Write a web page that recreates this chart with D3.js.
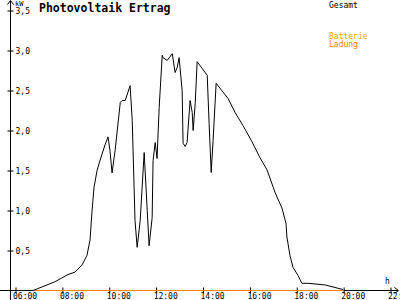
<!DOCTYPE html>
<html>
<head>
  <style>
    body { margin: 0; background: #fff; }
    svg { display: block; }
    text { font-family: "DejaVu Sans Mono", monospace; }
    .tick text { font-size: 8px; fill: #000; }
  </style>
</head>
<body>
  <svg id="chart" width="400" height="300"></svg>

  <script src="https://d3js.org/d3.v7.min.js"></script>
  <script>
    // decimal hours and kW
    const hours = [6.75, 7.69, 8.24, 8.54, 8.84, 9.05, 9.18, 9.26, 9.35, 9.48, 9.61, 9.82, 9.95, 10.03,
      10.12, 10.25, 10.47, 10.55, 10.68, 10.89, 10.98, 11.10, 11.19, 11.32, 11.49, 11.62, 11.70, 11.83,
      11.87, 11.96, 12.04, 12.13, 12.26, 12.30, 12.47, 12.69, 12.81, 12.90, 12.98, 13.11, 13.15, 13.24,
      13.32, 13.45, 13.54, 13.58, 13.67, 13.75, 14.18, 14.26, 14.35, 14.43, 14.56, 15.07, 15.37, 15.71,
      16.09, 16.43, 16.73, 17.08, 17.37, 17.54, 17.58, 17.71, 17.84, 18.05, 18.22, 18.48, 19.20, 19.97];
    const gesamt = [0, 0.11, 0.2, 0.23, 0.32, 0.44, 0.63, 0.97, 1.29, 1.5, 1.63, 1.82, 1.92, 1.75,
      1.47, 1.75, 2.35, 2.375, 2.375, 2.56, 2.125, 0.875, 0.54, 0.875, 1.725, 1.0, 0.56, 0.91,
      1.625, 1.85, 1.65, 2.29, 2.94, 2.91, 2.875, 2.96, 2.725, 2.79, 2.91, 2.5, 1.84, 1.8,
      1.85, 2.375, 2.225, 2.0, 2.35, 2.86, 2.69, 2.09, 1.475, 1.875, 2.59, 2.4, 2.225, 2.06,
      1.86, 1.66, 1.51, 1.22, 1.03, 0.84, 0.67, 0.44, 0.29, 0.19, 0.09, 0.09, 0.07, 0.0125];
    // battery charge: zero over the whole day
    const ladungHours = [6.75, 20];
    const ladung = [0, 0];

    const xTicks = [6, 8, 10, 12, 14, 16, 18, 20, 22];
    const yTicks = [0.5, 1, 1.5, 2, 2.5, 3, 3.5];

    const svg = d3.select("#chart");

    const x = d3.scaleLinear().domain([6, 22]).range([15.5, 390.5]);
    const y = d3.scaleLinear().domain([0, 3.5]).range([290.5, 10.5]);

    // x axis
    const xAxis = svg.append("g")
      .attr("transform", "translate(0,290.5)")
      .call(d3.axisBottom(x).tickValues(xTicks).tickSize(3)
        .tickFormat(d => String(d).padStart(2, "0") + ":00"));
    xAxis.select(".domain").remove();
    xAxis.selectAll(".tick line").attr("y1", -3).attr("y2", 3).attr("stroke", "#000");
    xAxis.selectAll(".tick text").attr("text-anchor", "start").attr("x", -3).attr("y", 3).attr("dy", "0.71em");

    // y axis
    const yAxis = svg.append("g")
      .attr("transform", "translate(10.5,0)")
      .call(d3.axisLeft(y).tickValues(yTicks).tickSize(3)
        .tickFormat(d => d3.format(".1f")(d).replace(".", ",")));
    yAxis.select(".domain").remove();
    yAxis.selectAll(".tick line").attr("x1", -3).attr("x2", 3).attr("stroke", "#000");
    yAxis.selectAll(".tick text").attr("text-anchor", "start").attr("x", 5).attr("dy", "0.35em");

    // axis lines with arrows
    svg.append("line").attr("x1", 0).attr("x2", 398).attr("y1", 290.5).attr("y2", 290.5)
      .attr("stroke", "#000");
    svg.append("path").attr("d", "M394.5,287.5 L398.5,290.5 L394.5,293.5").attr("fill", "none").attr("stroke", "#000");
    svg.append("line").attr("x1", 10.5).attr("x2", 10.5).attr("y1", 1).attr("y2", 300)
      .attr("stroke", "#000");
    svg.append("path").attr("d", "M7.5,4.5 L10.5,0.5 L13.5,4.5").attr("fill", "none").attr("stroke", "#000");

    svg.append("text").attr("x", 15).attr("y", 6).attr("font-size", 7).text("kW");
    svg.append("text").attr("x", 385).attr("y", 284).attr("font-size", 8).text("h");

    // title
    svg.append("text").attr("x", 39).attr("y", 11.5)
      .attr("font-size", 11.5).attr("font-weight", "bold").text("Photovoltaik Ertrag");

    // legend
    svg.append("text").attr("x", 329).attr("y", 8).attr("font-size", 8).attr("fill", "#000").text("Gesamt");
    svg.append("text").attr("x", 329).attr("y", 39).attr("font-size", 8).attr("fill", "#ffa500").text("Batterie");
    svg.append("text").attr("x", 329).attr("y", 47).attr("font-size", 8).attr("fill", "#ff8000").text("Ladung");

    const line = d3.line().x(d => x(d[0])).y(d => y(d[1]));

    svg.append("path")
      .datum(ladungHours.map((h, i) => [h, ladung[i]]))
      .attr("fill", "none").attr("stroke", "#ff8000").attr("stroke-width", 1.2)
      .attr("d", line);

    svg.append("path")
      .datum(hours.map((h, i) => [h, gesamt[i]]))
      .attr("fill", "none").attr("stroke", "#000").attr("stroke-width", 1)
      .attr("d", line);
  </script>
</body>
</html>
